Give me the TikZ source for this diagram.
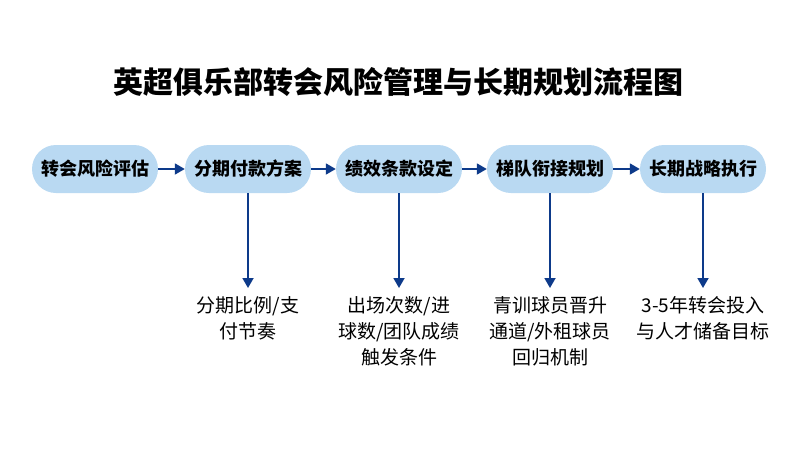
\documentclass[tikz,border=0pt]{standalone}
\usepackage{fontspec}
\setmainfont{Noto Sans CJK SC}
\usetikzlibrary{arrows.meta}
\definecolor{pill}{HTML}{B9D9F2}
\definecolor{arr}{HTML}{0D3A8A}
\tikzset{
 stage/.style={fill=pill,rounded corners=24pt,minimum width=126pt,minimum height=48pt,inner sep=0pt,font=\fontsize{18}{20}\selectfont\bfseries},
 link/.style={draw=arr,line width=1.8pt,-{Triangle[length=10pt,width=11pt]}},
 note/.style={align=center,font=\fontsize{19}{26}\selectfont,anchor=north}
}
\begin{document}
\begin{tikzpicture}[x=1pt,y=-1pt]
\useasboundingbox[fill=white] (0,0) rectangle (800,450);
\node[font=\fontsize{30}{32}\selectfont\bfseries] (t) at (398,82) {英超俱乐部转会风险管理与长期规划流程图};
\node[stage] (a) at (95,169) {转会风险评估};
\node[stage] (b) at (248,169) {分期付款方案};
\node[stage] (c) at (399,169) {绩效条款设定};
\node[stage] (d) at (550,169) {梯队衔接规划};
\node[stage] (e) at (703,169) {长期战略执行};
\draw[link] (a) -- (b);
\draw[link] (b) -- (c);
\draw[link] (c) -- (d);
\draw[link] (d) -- (e);
\foreach \n/\x in {b/248,c/399,d/550,e/703}{\coordinate (\n x) at (\x,288);}
\draw[link] (b) -- (bx);
\draw[link] (c) -- (cx);
\draw[link] (d) -- (dx);
\draw[link] (e) -- (ex);
\node[note] (nb) at (248,293) {分期比例/支\\付节奏};
\node[note] (nc) at (399,293) {出场次数/进\\球数/团队成绩\\触发条件};
\node[note] (nd) at (550,293) {青训球员晋升\\通道/外租球员\\回归机制};
\node[note] (ne) at (703,293) {3-5年转会投入\\与人才储备目标};
\end{tikzpicture}
\end{document}
